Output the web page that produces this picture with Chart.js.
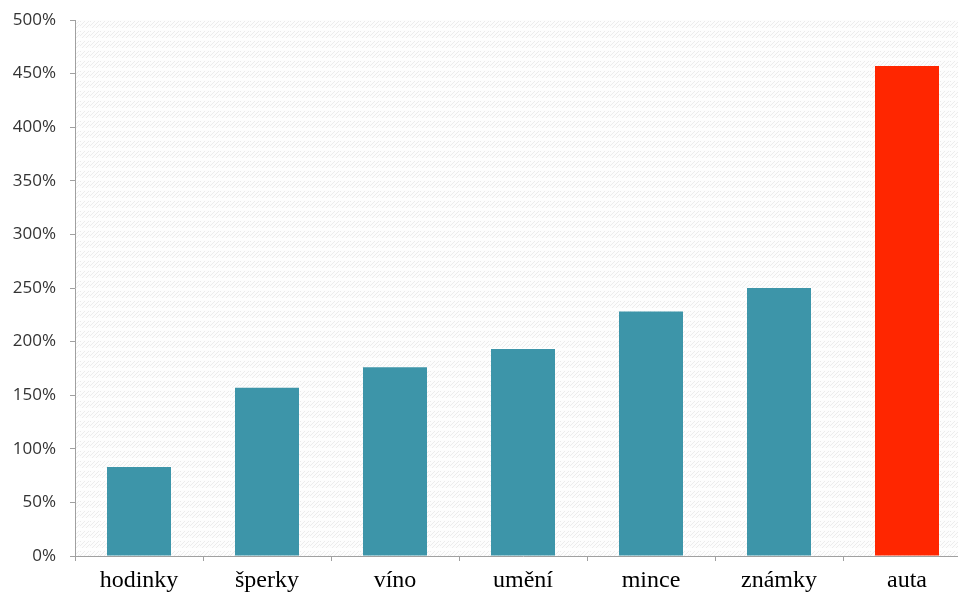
<!DOCTYPE html>
<html>
<head>
<meta charset="utf-8">
<script src="https://cdn.jsdelivr.net/npm/chart.js@4.4.1/dist/chart.umd.min.js"></script>
<style>
html,body{margin:0;padding:0;background:#fff;overflow:hidden}
#box{position:absolute;left:0;top:0;width:975px;height:592px}
</style>
</head>
<body>
<div id="box"><canvas id="graf"></canvas></div>
<script>
// hodnoty
const kategorie=["hodinky","šperky","víno","umění","mince","známky","auta"];
const hodnoty=[83,157,176,193,228,250,457];
const barvy=["#3d95a9","#3d95a9","#3d95a9","#3d95a9","#3d95a9","#3d95a9","#ff2600"];
const osaY={min:0,max:500,krok:50};

// šrafované pozadí
function vzorek(){
  const c=document.createElement("canvas");
  c.width=10;c.height=10;
  const g=c.getContext("2d");
  g.fillStyle="#fdfdfd";
  g.fillRect(0,0,10,10);
  g.strokeStyle="#ececec";
  g.lineWidth=1;
  for(let i=-10;i<=20;i+=4){
    g.beginPath();g.moveTo(i,8);g.lineTo(i+7,1);g.stroke();
  }
  g.fillStyle="#ffffff";
  g.fillRect(0,8,10,2);
  return c;
}
const pozadi={
  id:"pozadi",
  beforeDatasetsDraw(chart){
    const a=chart.chartArea,ctx=chart.ctx;
    ctx.save();
    ctx.fillStyle=ctx.createPattern(vzorek(),"repeat");
    ctx.fillRect(a.left+1,a.top,a.right-a.left,a.bottom-a.top);
    ctx.restore();
  }
};

var ctx=document.getElementById("graf");
var chart=new Chart(ctx,{
  type:'bar',
  data:{
    labels:kategorie,
    datasets:[{
      data:hodnoty,
      backgroundColor:barvy,
      barPercentage:0.5,
      categoryPercentage:1
    }]
  },
  options:{
    responsive:true,
    maintainAspectRatio:false,
    animation:false,
    layout:{padding:{top:20,right:4,bottom:0,left:0}},
    plugins:{legend:{display:false},tooltip:{enabled:false}},
    scales:{
      x:{
        grid:{drawOnChartArea:false,tickLength:5,color:"#a0a0a0",offset:true},
        border:{color:"#a0a0a0"},
        ticks:{color:"#000",padding:5,font:{family:"Liberation Serif",size:24}},
        afterFit(s){s.height=36}
      },
      y:{
        min:osaY.min,max:osaY.max,
        grid:{drawOnChartArea:false,tickLength:5,color:"#a0a0a0"},
        border:{color:"#a0a0a0"},
        ticks:{stepSize:osaY.krok,color:"#333",padding:14,
          font:{family:"'Open Sans', sans-serif",size:17},
          callback:v=>v+"%"},
        afterFit(s){s.width=75;s.paddingTop=12}
      }
    }
  },
  plugins:[pozadi]
});
</script>
</body>
</html>
